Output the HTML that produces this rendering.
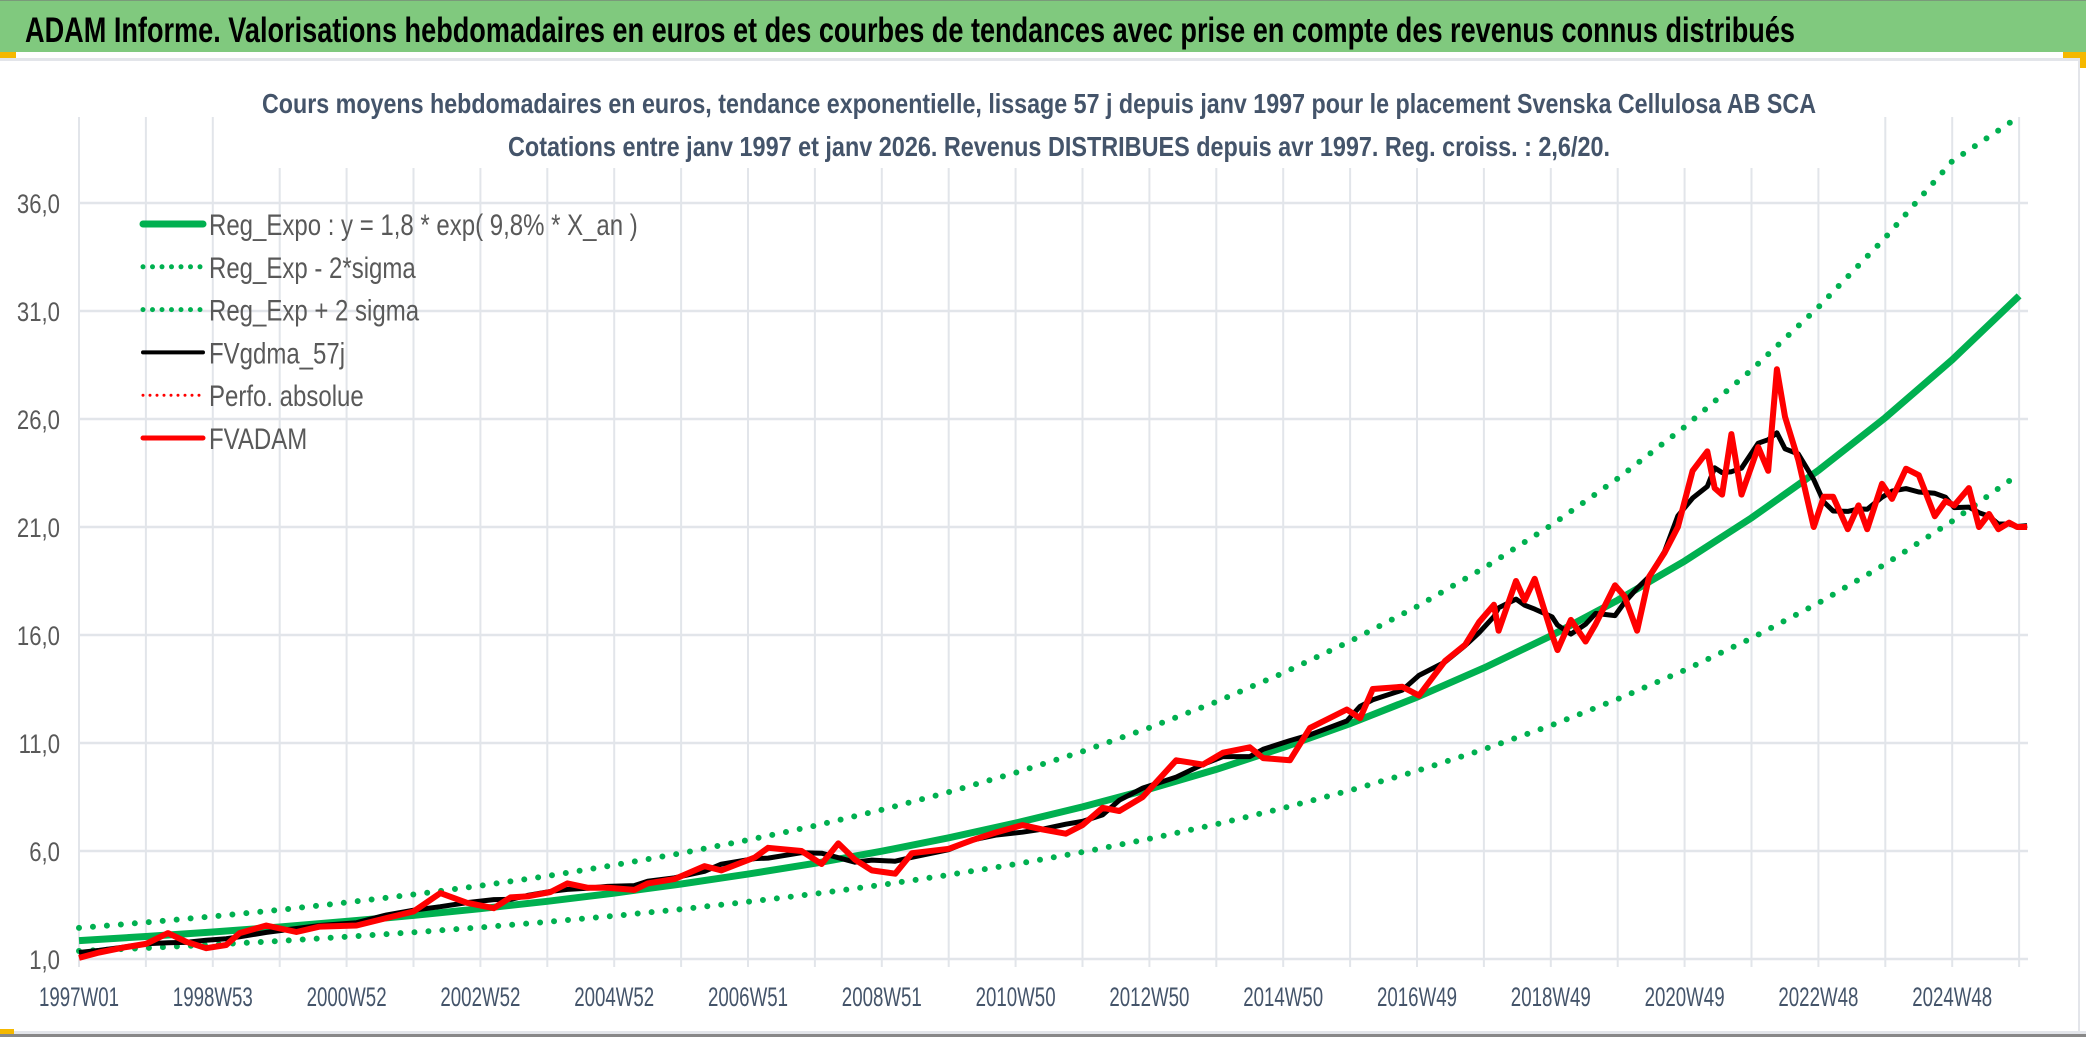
<!DOCTYPE html>
<html><head><meta charset="utf-8">
<style>
html,body{margin:0;padding:0;background:#fff;}
svg{display:block;font-family:"Liberation Sans",sans-serif;}
</style></head>
<body>
<svg id="chart" width="2086" height="1037" viewBox="0 0 2086 1037" xmlns="http://www.w3.org/2000/svg">
<rect x="0" y="0" width="2086" height="1037" fill="#ffffff"/>
<rect x="0" y="0" width="2086" height="52" fill="#80c97e"/>
<rect x="0" y="0" width="2086" height="1" fill="#7a9a7a"/>
<text x="25" y="42" font-size="35" font-weight="bold" fill="#000" textLength="1770" lengthAdjust="spacingAndGlyphs">ADAM Informe. Valorisations hebdomadaires en euros et des courbes de tendances avec prise en compte des revenus connus distribués</text>
<rect x="0" y="52" width="16" height="7" fill="#f5b800"/>
<rect x="2063" y="52" width="23" height="7" fill="#f5b800"/>
<rect x="2080" y="52" width="6" height="16" fill="#f5b800"/>
<rect x="0" y="58" width="2080" height="3" fill="#e3e5ea"/>
<rect x="2078" y="58" width="2" height="975" fill="#e3e5ea"/>
<rect x="0" y="1031" width="2086" height="3" fill="#e3e5ea"/>
<rect x="0" y="1034" width="2086" height="3" fill="#888"/>
<rect x="0" y="1029" width="14" height="5" fill="#f5b800"/>
<g id="grid"></g>
<rect x="250" y="78" width="1580" height="90" fill="#fff"/>
<text x="1039" y="113" font-size="28" font-weight="bold" fill="#44546a" text-anchor="middle" textLength="1554" lengthAdjust="spacingAndGlyphs">Cours moyens hebdomadaires en euros, tendance exponentielle, lissage 57 j depuis janv 1997 pour le placement Svenska Cellulosa AB SCA</text>
<text x="1059" y="156" font-size="28" font-weight="bold" fill="#44546a" text-anchor="middle" textLength="1102" lengthAdjust="spacingAndGlyphs">Cotations entre janv 1997 et janv 2026. Revenus DISTRIBUES depuis avr 1997. Reg. croiss. : 2,6/20.</text>
<g id="axes"></g>
<defs><clipPath id="plotclip"><rect x="70" y="117" width="1960" height="850"/></clipPath></defs>
<g id="series" clip-path="url(#plotclip)"></g>
<g id="legend"></g>
</svg>
<script>
// ---- data ----
const trendYears = [1997,1998,1999,2000,2001,2002,2003,2004,2005,2006,2007,2008,2009,2010,2011,2012,2013,2014,2015,2016,2017,2018,2019,2020,2021,2022,2023,2024,2025,2026];
const trendValues = [1.85,2.04,2.25,2.48,2.74,3.02,3.33,3.67,4.05,4.47,4.93,5.43,5.99,6.61,7.29,8.04,8.87,9.78,10.79,11.90,13.12,14.47,15.96,17.61,19.42,21.42,23.62,26.06,28.74,31.70];
const bandUpperFactor = [1.32];
const bandLowerFactor = [0.74];
const priceYears = [1997.0,1997.3,1997.7,1998.0,1998.33,1998.6,1998.9,1999.2,1999.4,1999.8,2000.25,2000.6,2001.15,2001.6,2002.0,2002.4,2002.8,2003.2,2003.45,2003.7,2004.05,2004.3,2004.6,2004.9,2005.3,2005.5,2005.9,2006.35,2006.6,2007.1,2007.3,2007.8,2008.1,2008.35,2008.6,2008.85,2009.2,2009.45,2010.0,2010.35,2010.7,2011.1,2011.4,2011.75,2012.0,2012.3,2012.55,2012.9,2013.4,2013.8,2014.1,2014.5,2014.7,2015.1,2015.4,2015.95,2016.15,2016.34,2016.78,2017.03,2017.42,2017.72,2017.93,2018.15,2018.22,2018.48,2018.61,2018.76,2019.02,2019.1,2019.3,2019.52,2019.67,2019.96,2020.1,2020.29,2020.47,2020.7,2020.9,2021.12,2021.34,2021.45,2021.56,2021.7,2021.85,2022.1,2022.25,2022.38,2022.5,2022.7,2022.93,2023.08,2023.22,2023.44,2023.6,2023.73,2023.95,2024.1,2024.31,2024.5,2024.74,2024.9,2025.03,2025.25,2025.4,2025.55,2025.69,2025.85,2025.97,2026.12];
const priceValues = [1.05,1.3,1.55,1.7,2.2,1.8,1.5,1.65,2.2,2.55,2.25,2.5,2.55,2.9,3.2,4.05,3.6,3.35,3.85,3.9,4.1,4.5,4.3,4.3,4.2,4.5,4.7,5.3,5.1,5.7,6.15,6.0,5.4,6.35,5.6,5.1,4.95,5.9,6.1,6.5,6.85,7.2,7.0,6.8,7.2,8.0,7.85,8.5,10.2,10.0,10.55,10.8,10.3,10.2,11.7,12.55,12.15,13.5,13.6,13.2,14.8,15.55,16.6,17.4,16.2,18.5,17.6,18.6,16.0,15.3,16.7,15.7,16.5,18.3,17.8,16.2,18.7,19.8,21.0,23.6,24.5,22.8,22.5,25.3,22.5,24.7,23.6,28.3,26.1,24.1,21.0,22.4,22.4,20.9,22.0,20.9,23.0,22.3,23.7,23.4,21.5,22.2,22.0,22.8,21.0,21.6,20.9,21.2,21.0,21.0];
const yTicks = [1,6,11,16,21,26,31,36];
const yTickLabels = ["1,0","6,0","11,0","16,0","21,0","26,0","31,0","36,0"];
const xTickLabels = ["1997W01","1998W53","2000W52","2002W52","2004W52","2006W51","2008W51","2010W50","2012W50","2014W50","2016W49","2018W49","2020W49","2022W48","2024W48"];
const legendLabels = ["Reg_Expo : y = 1,8 * exp( 9,8% *  X_an )","Reg_Exp - 2*sigma","Reg_Exp + 2 sigma","FVgdma_57j","Perfo. absolue","FVADAM"];

// ---- axes ----
const NS="http://www.w3.org/2000/svg";
const X0=79, PXY=66.9, Y1=959, PXV=21.6;
function xs(yr){return X0+(yr-1997)*PXY;}
function ys(v){return Y1-(v-1)*PXV;}
function mk(tag,attrs,parent){const e=document.createElementNS(NS,tag);for(const k in attrs)e.setAttribute(k,attrs[k]);parent.appendChild(e);return e;}
const grid=document.getElementById('grid'), axes=document.getElementById('axes'), series=document.getElementById('series'), legend=document.getElementById('legend');

for(let i=0;i<=29;i++){
  const x=xs(1997+i);
  const l=mk('line',{x1:x,x2:x,y1:117,y2:967,stroke:'#e2e5ea','stroke-width':2},grid);
  
  
}
yTicks.forEach((v,i)=>{
  const y=ys(v);
  const l=mk('line',{x1:78,x2:2028,y1:y,y2:y,stroke:'#e2e5ea','stroke-width':2.5},grid);
  
  
  const g=mk('g',{transform:'translate(60,'+(y+10)+') scale(0.82,1)'},axes);
  const t=mk('text',{x:0,y:0,'font-size':27,fill:'#595959','text-anchor':'end'},g);
  t.textContent=yTickLabels[i];
  
  
});
xTickLabels.forEach((s,i)=>{
  const t=mk('text',{x:xs(1997+2*i),y:1006,'font-size':27,fill:'#44546a','text-anchor':'middle',textLength:80,lengthAdjust:'spacingAndGlyphs'},axes);
  t.textContent=s;
  
  
});

// ---- series ----
function pts(xsArr,vals,f){return xsArr.map((yr,i)=>xs(yr).toFixed(1)+','+ys(Math.min(40,vals[i]*f)).toFixed(1)).join(' ');}
const up=mk('polyline',{points:pts(trendYears,trendValues,bandUpperFactor[0]),fill:'none',stroke:'#00b050','stroke-width':6,'stroke-dasharray':'0 14','stroke-linecap':'round'},series);


const lo=mk('polyline',{points:pts(trendYears,trendValues,bandLowerFactor[0]),fill:'none',stroke:'#00b050','stroke-width':6,'stroke-dasharray':'0 14','stroke-linecap':'round'},series);


const tr=mk('polyline',{points:pts(trendYears,trendValues,1),fill:'none',stroke:'#00b050','stroke-width':7},series);


const smooth=priceValues.map((v,i)=>{let s=0,n=0;for(let k=-2;k<=2;k++){const j=i+k;if(j>=0&&j<priceValues.length){s+=priceValues[j];n++;}}return s/n;});
const bl=mk('polyline',{points:pts(priceYears,smooth,1),fill:'none',stroke:'#000','stroke-width':5,'stroke-linejoin':'round'},series);


const rd=mk('polyline',{points:pts(priceYears,priceValues,1),fill:'none',stroke:'#ff0000','stroke-width':6,'stroke-linejoin':'round'},series);



// ---- legend ----
const legStyles=[{c:'#00b050',w:7,d:null},{c:'#00b050',w:5,d:'0 9.5'},{c:'#00b050',w:5,d:'0 9.5'},{c:'#000',w:4,d:null},{c:'#ff0000',w:3,d:'0 7'},{c:'#ff0000',w:5,d:null}];
legendLabels.forEach((s,i)=>{
  const y=224+i*42.8;
  const a={x1:143,x2:203,y1:y,y2:y,stroke:legStyles[i].c,'stroke-width':legStyles[i].w,'stroke-linecap':'round'};
  if(legStyles[i].d)a['stroke-dasharray']=legStyles[i].d;
  const l=mk('line',a,legend);
  
  
  const g=mk('g',{transform:'translate(209,'+(y+11)+') scale(0.8,1)'},legend);
  const t=mk('text',{x:0,y:0,'font-size':30,fill:'#595959'},g);
  t.textContent=s;
  
  
});
</script>
</body></html>
